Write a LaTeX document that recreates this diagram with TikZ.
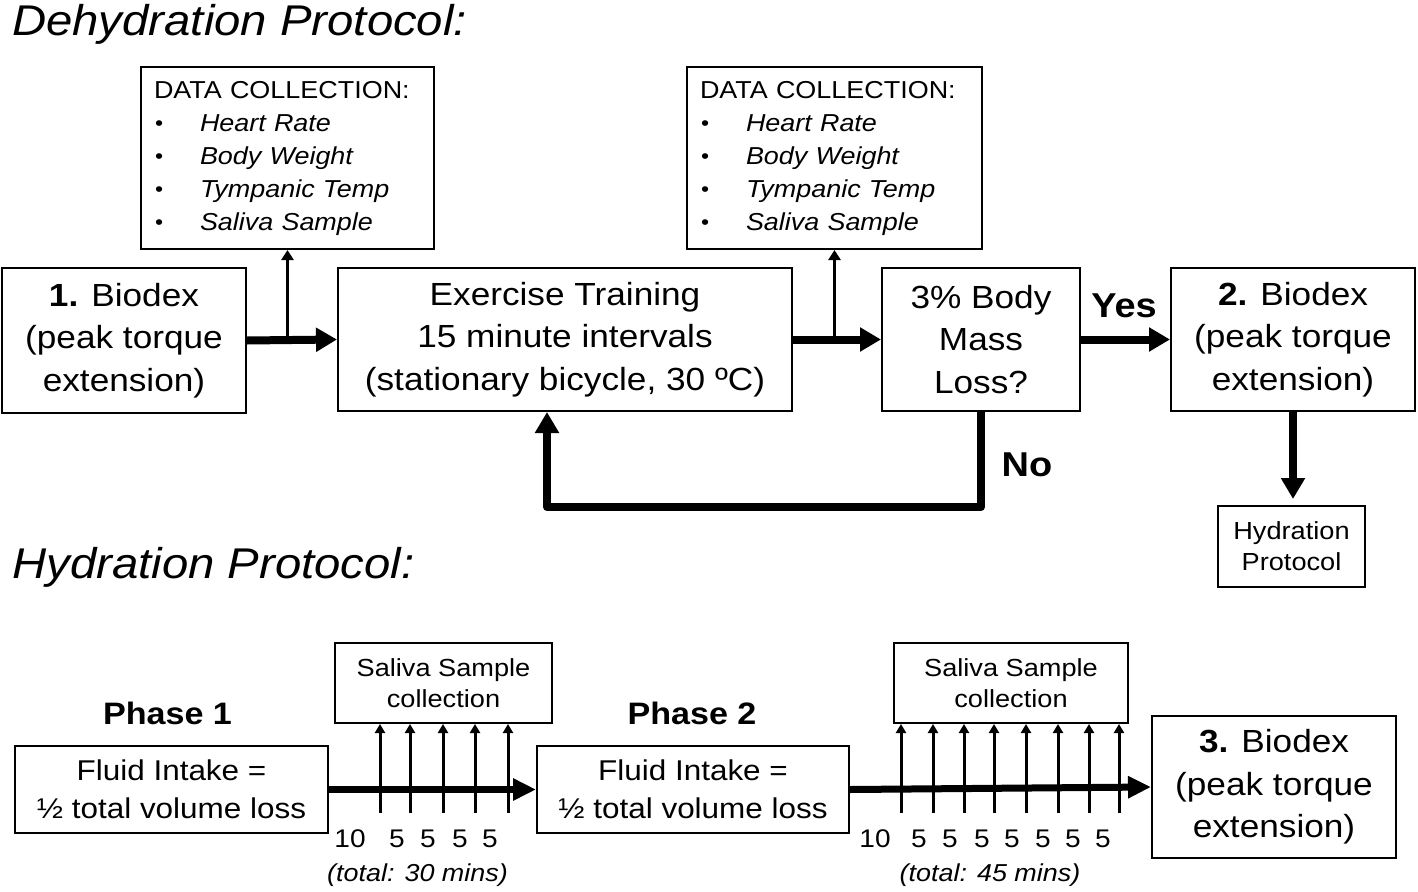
\documentclass[tikz,border=0pt]{standalone}
\usepackage{fontspec}
\setmainfont{Liberation Sans}[FakeStretch=1.1]
\usetikzlibrary{arrows.meta}
\newcommand\fmain{\fontsize{32}{42.5}\selectfont}
\newcommand\ftitle{\fontsize{43}{50}\selectfont\itshape}
\newcommand\fdc{\fontsize{24.5}{33}\selectfont}
\newcommand\fsmall{\fontsize{24.7}{31}\selectfont}
\newcommand\ffluid{\fontsize{28.6}{38}\selectfont}
\newcommand\fphase{\fontsize{31}{36}\selectfont\bfseries}
\newcommand\fyes{\fontsize{34.5}{40}\selectfont\bfseries}
\newcommand\fnum{\fontsize{25.5}{28}\selectfont}
\newcommand\ftot{\fontsize{24.5}{28}\selectfont\itshape}
\newcommand\bul{\makebox[46pt][l]{\hspace{1pt}\raisebox{1pt}{\fontsize{21}{24}\selectfont •}}}
\begin{document}
\begin{tikzpicture}[x=1pt,y=-1pt,
  box/.style={draw, line width=2pt, align=center, inner sep=0pt, font=\fmain},
  dcbox/.style={draw, line width=2pt, align=left, inner ysep=0pt, inner xsep=13pt, font=\fdc},
  bigarrow/.style={line width=8pt, -{Triangle[length=21pt,width=23pt]}},
  midarrow/.style={line width=7pt, -{Triangle[length=23pt,width=21pt]}},
  thinarrow/.style={line width=3pt, -{Triangle[length=10pt,width=12pt]}},
  tickarrow/.style={line width=3pt, -{Triangle[length=9pt,width=10pt]}},
  lbl/.style={inner sep=0pt, anchor=base},
  titletext/.style={inner sep=0pt, anchor=base west, font=\ftitle}]
\useasboundingbox (0,0) rectangle (1418,891);

% titles
\node[titletext] (t1) at (12,36) {Dehydration Protocol:};
\node[titletext] (t2) at (12,578) {Hydration Protocol:};

% dehydration boxes
\node[box, minimum width=244pt, minimum height=145pt] (b1) at (124,340.5) {\textbf{1.} Biodex\\(peak torque\\extension)};
\node[box, minimum width=454pt, minimum height=143pt] (ex) at (565,339.5) {Exercise Training\\15 minute intervals\\(stationary bicycle, 30 ºC)};
\node[box, minimum width=198pt, minimum height=143pt] (pct) at (981,339.5) {3\% Body\\Mass\\Loss?};
\node[box, minimum width=244pt, minimum height=143pt] (b2) at (1293,339.5) {\textbf{2.} Biodex\\(peak torque\\extension)};
\node[dcbox, text width=267pt, minimum height=182pt] (dc1) at (287.5,158) {DATA COLLECTION:\\\bul\textit{Heart Rate}\\\bul\textit{Body Weight}\\\bul\textit{Tympanic Temp}\\\bul\textit{Saliva Sample}};
\node[dcbox, text width=269pt, minimum height=182pt] (dc2) at (834.5,158) {DATA COLLECTION:\\\bul\textit{Heart Rate}\\\bul\textit{Body Weight}\\\bul\textit{Tympanic Temp}\\\bul\textit{Saliva Sample}};
\node[box, font=\fsmall, minimum width=147pt, minimum height=81pt] (hy) at (1291.5,546.5) {Hydration\\Protocol};

% dehydration connectors
\draw[bigarrow] (b1.east) -- (ex.west);
\draw[thinarrow] (dc1.south |- b1.east) -- (dc1.south);
\draw[bigarrow] (ex.east) -- (pct.west);
\draw[thinarrow] (dc2.south |- ex.east) -- (dc2.south);
\draw[bigarrow] (pct.east) -- (b2.west);
\node[lbl, font=\fyes] (yes) at (1124,317) {Yes};
\coordinate (lp) at (547,507);
\draw[bigarrow, line join=round] (pct.south) |- (lp) -- (lp |- ex.south);
\node[lbl, font=\fyes] (no) at (1027,476) {No};
\draw[bigarrow, shorten >=6pt] (b2.south) -- (b2.south |- hy.north);

% hydration boxes
\node[lbl, font=\fphase] (p1) at (167.5,724) {Phase 1};
\node[lbl, font=\fphase] (p2) at (692,724) {Phase 2};
\node[box, font=\ffluid, minimum width=313pt, minimum height=87pt] (f1) at (171.5,789.5) {Fluid Intake =\\½ total volume loss};
\node[box, font=\ffluid, minimum width=312pt, minimum height=87pt] (f2) at (693,789.5) {Fluid Intake =\\½ total volume loss};
\node[box, font=\fsmall, minimum width=217pt, minimum height=80pt] (s1) at (443.5,683) {Saliva Sample\\collection};
\node[box, font=\fsmall, minimum width=234pt, minimum height=80pt] (s2) at (1011,683) {Saliva Sample\\collection};
\node[box, minimum width=244pt, minimum height=142pt] (b3) at (1274,787) {\textbf{3.} Biodex\\(peak torque\\extension)};

% timelines
\draw[midarrow] (f1.east) -- (f2.west);
\draw[midarrow] (f2.east) -- (b3.west);
\foreach \x in {380,410,443,475,508}{
  \coordinate (ta\x) at (\x,813);
  \draw[tickarrow] (ta\x) -- (ta\x |- s1.south);
}
\foreach \x in {901,933,964,994,1026,1058,1089,1119}{
  \coordinate (tb\x) at (\x,813);
  \draw[tickarrow] (tb\x) -- (tb\x |- s2.south);
}
\node[lbl, font=\fnum] (na0) at (350,847) {10};
\foreach \x in {397,428,460,490}{\node[lbl, font=\fnum] (na\x) at (\x,847) {5};}
\node[lbl, font=\fnum] (nb0) at (875,847) {10};
\foreach \x in {919,950,982,1012,1043,1073,1103}{\node[lbl, font=\fnum] (nb\x) at (\x,847) {5};}
\node[lbl, font=\ftot] (tot1) at (417.5,881) {(total: 30 mins)};
\node[lbl, font=\ftot] (tot2) at (990,881) {(total: 45 mins)};
\end{tikzpicture}
\end{document}
